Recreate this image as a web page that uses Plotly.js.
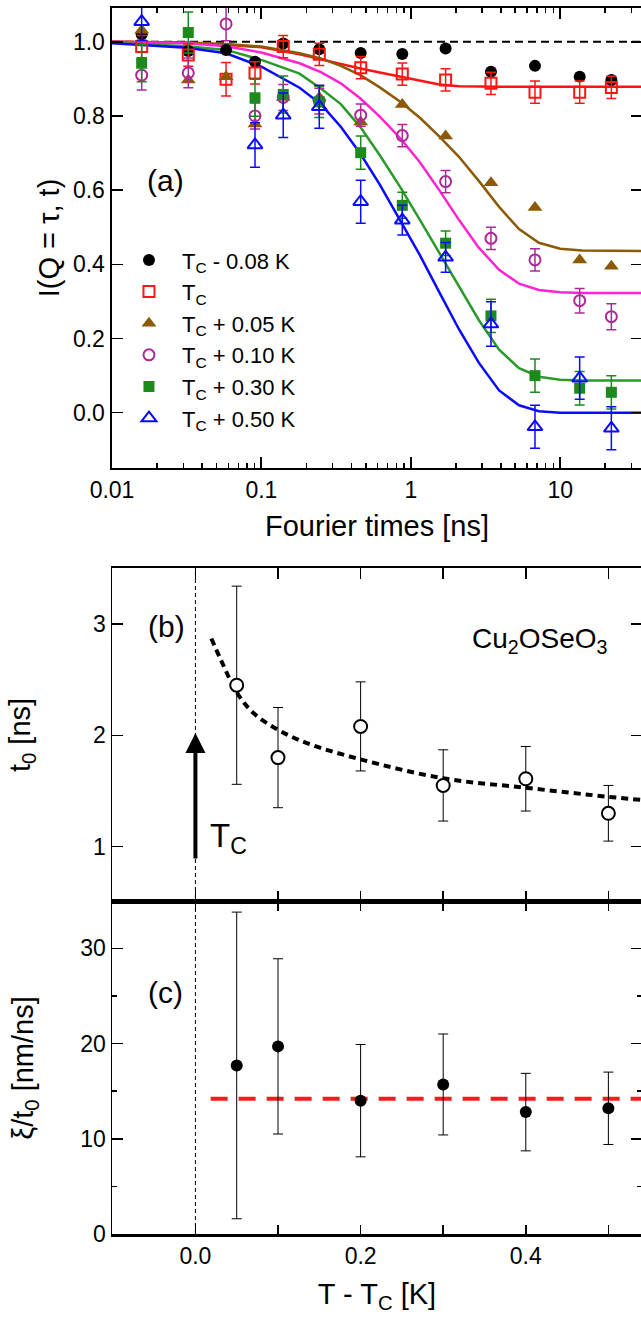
<!DOCTYPE html>
<html>
<head>
<meta charset="utf-8">
<script src="https://cdn.plot.ly/plotly-3.0.1.min.js"></script>
<style>
html,body{margin:0;padding:0;overflow:hidden;background:#fff;}
#chart{width:645px;height:1320px;}
</style>
</head>
<body>
<div id="chart"></div>
<script>
// ---------- Panel (a) data ----------
const fourierTimes = [0.0158, 0.0324, 0.058, 0.0906, 0.140, 0.244, 0.462, 0.877, 1.71, 3.44, 6.78, 13.5, 22.0];

const iTcm008 = [1.02, 0.975, 0.978, 0.946, 0.995, 0.98, 0.970, 0.967, 0.982, 0.919, 0.935, 0.906, 0.897];
const iTc     = [0.987, 0.964, 0.899, 0.916, 0.987, 0.966, 0.930, 0.913, 0.897, 0.888, 0.864, 0.864, 0.877];
const iTcErr  = [0.03, 0.03, 0.045, 0.03, 0.03, 0.03, 0.03, 0.03, 0.03, 0.03, 0.03, 0.03, 0.03];
const iTc005  = [1.031, 0.897, 0.906, 0.778, 0.85, 0.85, 0.784, 0.831, 0.746, 0.620, 0.553, 0.412, 0.395];
const iTc010  = [0.910, 0.916, 1.048, 0.800, 0.85, 0.84, 0.802, 0.747, 0.623, 0.470, 0.412, 0.302, 0.259];
const iTc010Err = [0.04, 0.04, 0.045, 0.035, 0.035, 0.035, 0.03, 0.03, 0.03, 0.03, 0.03, 0.033, 0.035];
const iTc030  = [0.942, 1.025, null, 0.849, 0.858, 0.838, 0.701, 0.559, 0.457, 0.261, 0.100, 0.066, 0.055];
const iTc030Err = [0.05, 0.055, null, 0.05, 0.05, 0.042, 0.045, 0.035, 0.033, 0.045, 0.045, 0.045, 0.045];
const iTc050  = [1.054, null, null, 0.722, 0.802, 0.825, 0.569, 0.519, 0.419, 0.239, -0.038, 0.093, -0.042];
const iTc050Err = [0.05, null, null, 0.06, 0.06, 0.058, 0.058, 0.04, 0.04, 0.06, 0.058, 0.057, 0.058];

// fitted curves
const fitX = [0.01, 0.0316, 0.058, 0.1, 0.18, 0.25, 0.34, 0.46, 0.62, 0.85, 1.15, 1.55, 2.1, 2.85, 3.9, 5.3, 7.2, 10.0, 14.0, 22.0, 36.0];
const fitTc    = [1.0, 0.997, 0.992, 0.985, 0.966, 0.952, 0.939, 0.928, 0.917, 0.906, 0.895, 0.885, 0.880, 0.879, 0.879, 0.879, 0.879, 0.879, 0.879, 0.879, 0.879];
const fitTc005 = [1.0, 0.998, 0.994, 0.987, 0.969, 0.955, 0.935, 0.910, 0.877, 0.838, 0.795, 0.745, 0.690, 0.625, 0.555, 0.495, 0.458, 0.442, 0.437, 0.436, 0.436];
const fitTc010 = [1.0, 0.996, 0.988, 0.971, 0.942, 0.918, 0.888, 0.847, 0.798, 0.740, 0.675, 0.600, 0.520, 0.445, 0.385, 0.348, 0.331, 0.325, 0.323, 0.323, 0.323];
const fitTc030 = [0.997, 0.988, 0.978, 0.951, 0.914, 0.874, 0.832, 0.770, 0.694, 0.608, 0.520, 0.430, 0.340, 0.250, 0.170, 0.120, 0.097, 0.089, 0.087, 0.087, 0.087];
const fitTc050 = [0.996, 0.984, 0.969, 0.933, 0.876, 0.832, 0.771, 0.698, 0.615, 0.520, 0.425, 0.325, 0.225, 0.135, 0.060, 0.020, 0.004, 0.000, 0.000, 0.000, 0.000];
const refLineX = [0.01, 36.0];
const refLineY = [1.0, 1.0];

// ---------- Panel (b) data ----------
const dT = [0.05, 0.1, 0.2, 0.3, 0.4, 0.5];
const t0 = [2.45, 1.80, 2.08, 1.55, 1.61, 1.30];
const t0Err = [0.89, 0.45, 0.40, 0.32, 0.29, 0.25];
const t0FitX = [0.0193, 0.0307, 0.0505, 0.0703, 0.1, 0.135, 0.2, 0.3, 0.4, 0.5, 0.55];
const t0FitY = [2.87, 2.68, 2.38, 2.20, 2.05, 1.93, 1.784, 1.614, 1.529, 1.448, 1.413];

// ---------- Panel (c) data ----------
const xiT0 = [17.7, 19.7, 14.0, 15.7, 12.8, 13.2];
const xiT0Err = [16.1, 9.2, 5.9, 5.3, 4.07, 3.8];
const xiFitX = [0.0184, 0.55];
const xiFitY = [14.2, 14.2];

// tick labels
const logTickVals = [0.01, 0.1, 1, 10];
const logTickText = ['0.01', '0.1', '1', '10'];
const dTTickVals = [0, 0.2, 0.4];
const dTTickText = ['0.0', '0.2', '0.4'];
const t0TickVals = [1, 2, 3];

const FONT = 'Liberation Sans, Arial, Helvetica, sans-serif';
const C = {
  black: '#000000', red: '#ff1414', brown: '#8c5a06',
  magM: '#b02898', magL: '#ff24d2', greenM: '#1c8a1c', greenL: '#2a9a2a', blue: '#0a0aff'
};

function curve(y, color) {
  return {x: fitX, y: y, type: 'scatter', mode: 'lines', xaxis: 'x', yaxis: 'y',
    line: {color: color, width: 2.5}, showlegend: false, hoverinfo: 'skip'};
}
function pts(y, err, name, sym, size, color, lw) {
  const t = {x: fourierTimes, y: y, type: 'scatter', mode: 'markers', xaxis: 'x', yaxis: 'y', name: name,
    marker: {symbol: sym, size: size, color: color, line: {color: color, width: lw || 0}}};
  if (err) t.error_y = {type: 'data', array: err, visible: true, color: color, thickness: 1.5, width: 5};
  return t;
}

const traces = [
  {x: refLineX, y: refLineY, type: 'scatter', mode: 'lines', xaxis: 'x', yaxis: 'y',
   line: {color: '#000', width: 2, dash: '8px,5px'}, showlegend: false, hoverinfo: 'skip'},
  curve(fitTc, C.red),
  curve(fitTc005, C.brown),
  curve(fitTc010, C.magL),
  curve(fitTc030, C.greenL),
  curve(fitTc050, C.blue),
  pts(iTcm008, null, 'T<sub>C</sub> - 0.08 K', 'circle', 12, C.black),
  pts(iTc, iTcErr, 'T<sub>C</sub>', 'square-open', 11, C.red, 2),
  pts(iTc005, null, 'T<sub>C</sub> + 0.05 K', 'triangle-up', 13, C.brown),
  pts(iTc010, iTc010Err, 'T<sub>C</sub> + 0.10 K', 'circle-open', 11, C.magM, 2),
  pts(iTc030, iTc030Err, 'T<sub>C</sub> + 0.30 K', 'square', 11, C.greenM),
  pts(iTc050, iTc050Err, 'T<sub>C</sub> + 0.50 K', 'triangle-up-open', 13, C.blue, 2),
  // panel b
  {x: t0FitX, y: t0FitY, type: 'scatter', mode: 'lines', xaxis: 'x3', yaxis: 'y2', line: {color: '#000', width: 4, dash: '7px,5px', shape: 'spline'}, showlegend: false},
  {x: dT, y: t0, type: 'scatter', mode: 'markers', xaxis: 'x3', yaxis: 'y2', showlegend: false,
   marker: {symbol: 'circle', size: 13, color: '#fff', line: {color: '#000', width: 2}},
   error_y: {type: 'data', array: t0Err, color: '#000', thickness: 1, width: 5}},
  // panel c
  {x: xiFitX, y: xiFitY, type: 'scatter', mode: 'lines', xaxis: 'x2', yaxis: 'y3', line: {color: '#ff1a1a', width: 4, dash: '17px,11px'}, showlegend: false},
  {x: dT, y: xiT0, type: 'scatter', mode: 'markers', xaxis: 'x2', yaxis: 'y3', showlegend: false,
   marker: {symbol: 'circle', size: 12, color: '#000'},
   error_y: {type: 'data', array: xiT0Err, color: '#000', thickness: 1, width: 5}}
];

const tickFont = {family: FONT, size: 23, color: '#000'};
const titleFont = {family: FONT, size: 29, color: '#000'};
const dTRange = [-0.101, 0.5407];
const dTMinor = {ticks: 'inside', ticklen: 11, tickwidth: 1.5, tickcolor: '#000', tick0: 0, dtick: 0.1, showgrid: false};

const layout = {
  width: 645, height: 1320,
  margin: {l: 112, r: 3, t: 8, b: 86},
  paper_bgcolor: '#fff', plot_bgcolor: 'rgba(0,0,0,0)',
  font: {family: FONT, color: '#000'},
  showlegend: true,
  legend: {x: 0.0075, xanchor: 'left', y: 0.8114, yanchor: 'top', font: {family: FONT, size: 22, color: '#000'},
           bgcolor: 'rgba(0,0,0,0)', itemwidth: 56, tracegroupgap: 0},
  xaxis: {type: 'log', domain: [0, 1], anchor: 'y', range: [-2, 1.5475],
          tickmode: 'array', tickvals: logTickVals, ticktext: logTickText,
          ticks: 'inside', ticklen: 11, tickwidth: 2, tickcolor: '#000',
          minor: {ticks: 'inside', ticklen: 5, tickwidth: 1.5, tickcolor: '#000', dtick: 'D1', showgrid: false},
          showline: true, linewidth: 2.5, linecolor: '#000', mirror: 'allticks',
          showgrid: false, zeroline: false, tickfont: tickFont,
          title: {text: 'Fourier times [ns]', font: titleFont, standoff: 14}},
  yaxis: {domain: [0.6248, 1], anchor: 'x', range: [-0.149, 1.091], tick0: 0, dtick: 0.2, tickformat: '.1f',
          ticks: 'inside', ticklen: 11, tickwidth: 1.5, tickcolor: '#000',
          showline: true, linewidth: 2.5, linecolor: '#000', mirror: 'ticks',
          showgrid: false, zeroline: false, tickfont: tickFont,
          title: {text: 'I(Q = τ, t)', font: titleFont, standoff: 5}},
  xaxis3: {domain: [0, 1], anchor: 'y2', range: dTRange, tickmode: 'array', tickvals: dTTickVals,
           ticks: 'inside', ticklen: 11, tickwidth: 1.5, tickcolor: '#000', showticklabels: false, minor: dTMinor,
           showline: true, linewidth: 2.5, linecolor: '#000', mirror: 'allticks', showgrid: false, zeroline: false},
  yaxis2: {domain: [0.2708, 0.54323], anchor: 'x3', range: [0.503, 3.503], tickmode: 'array', tickvals: t0TickVals,
           ticks: 'inside', ticklen: 11, tickwidth: 1.5, tickcolor: '#000',
           showline: true, linewidth: 1.5, linecolor: '#000', mirror: 'ticks',
           showgrid: false, zeroline: false, tickfont: tickFont,
           title: {text: 't<sub>0</sub> [ns]', font: titleFont, standoff: 54}},
  xaxis2: {domain: [0, 1], anchor: 'y3', range: dTRange, tickmode: 'array', tickvals: dTTickVals, ticktext: dTTickText,
           ticks: 'inside', ticklen: 9, tickwidth: 1.5, tickcolor: '#000',
           minor: Object.assign({}, dTMinor, {ticklen: 9}),
           showline: true, linewidth: 2.5, linecolor: '#000', mirror: 'allticks', showgrid: false, zeroline: false,
           tickfont: tickFont,
           title: {text: 'T - T<sub>C</sub> [K]', font: titleFont, standoff: 16}},
  yaxis3: {domain: [0, 0.2708], anchor: 'x2', range: [0, 34.86], tick0: 0, dtick: 10,
           ticks: 'inside', ticklen: 11, tickwidth: 1.5, tickcolor: '#000',
           minor: {ticks: 'inside', ticklen: 5, tickwidth: 1.5, tickcolor: '#000', dtick: 5, showgrid: false},
           showline: true, linewidth: 1.5, linecolor: '#000', mirror: 'ticks',
           showgrid: false, zeroline: false, tickfont: tickFont,
           title: {text: 'ξ/t<sub>0</sub> [nm/ns]', font: titleFont, standoff: 38}},
  shapes: [
    {type: 'line', xref: 'x2', yref: 'paper', x0: 0, x1: 0, y0: 0, y1: 0.54323,
     line: {color: '#000', width: 1, dash: '4px,3px'}, layer: 'below'}
  ],
  annotations: [
    {xref: 'paper', yref: 'paper', x: 0.1, y: 0.8589, xanchor: 'center', yanchor: 'middle', text: '(a)', showarrow: false, font: {family: FONT, size: 30, color: '#000'}},
    {xref: 'paper', yref: 'paper', x: 0.1019, y: 0.4959, xanchor: 'center', yanchor: 'middle', text: '(b)', showarrow: false, font: {family: FONT, size: 30, color: '#000'}},
    {xref: 'paper', yref: 'paper', x: 0.1, y: 0.1966, xanchor: 'center', yanchor: 'middle', text: '(c)', showarrow: false, font: {family: FONT, size: 30, color: '#000'}},
    {xref: 'paper', yref: 'paper', x: 0.8075, y: 0.4837, xanchor: 'center', yanchor: 'middle', text: 'Cu<sub>2</sub>OSeO<sub>3</sub>', showarrow: false, font: {family: FONT, size: 28, color: '#000'}},
    {xref: 'paper', yref: 'paper', x: 0.2198, y: 0.323, xanchor: 'center', yanchor: 'middle', text: 'T<sub>C</sub>', showarrow: false, font: {family: FONT, size: 33, color: '#000'}},
    {xref: 'x3', yref: 'y2', x: 0, y: 2.02, axref: 'x3', ayref: 'y2', ax: 0, ay: 0.88, text: '',
     showarrow: true, arrowhead: 2, arrowsize: 1, arrowwidth: 4, arrowcolor: '#000'}
  ]
};

Plotly.newPlot('chart', traces, layout, {displayModeBar: false, staticPlot: true});
</script>
</body>
</html>
